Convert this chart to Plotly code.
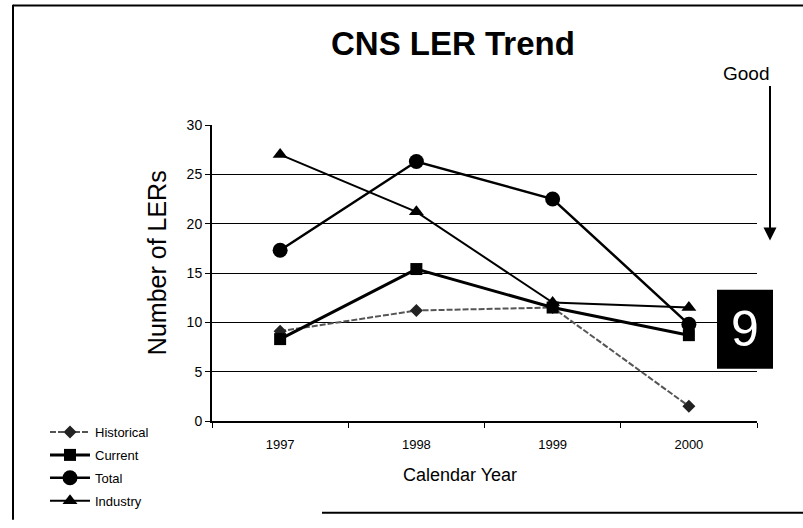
import plotly.graph_objects as go

years = ["1997", "1998", "1999", "2000"]
historical = [9.1, 11.2, 11.5, 1.5]
current = [8.3, 15.4, 11.5, 8.7]
total = [17.3, 26.3, 22.5, 9.8]
industry = [27.0, 21.2, 12.0, 11.5]

# plot area in pixels: x 212..757, y 125..425
W, H = 803, 528
L, R, T, B = 212, 757, 125, 425


def px(x):
    return (x - L) / (R - L)


def py(y):
    return (B - y) / (B - T)


FONT = "Arial, Liberation Sans, sans-serif"

fig = go.Figure()

fig.add_trace(go.Scatter(
    x=years, y=historical, name="Historical", legendgroup="a",
    mode="lines+markers",
    line=dict(color="#555", width=2, dash="6px,2px"),
    marker=dict(symbol="diamond", size=10, color="#222"),
))
fig.add_trace(go.Scatter(
    x=years, y=current, name="Current", legendgroup="b",
    mode="lines+markers",
    line=dict(color="black", width=3),
    marker=dict(symbol="square", size=12, color="black"),
))
fig.add_trace(go.Scatter(
    x=years, y=total, name="Total", legendgroup="c",
    mode="lines+markers",
    line=dict(color="black", width=2.5),
    marker=dict(symbol="circle", size=15, color="black"),
))
fig.add_trace(go.Scatter(
    x=years, y=industry, name="Industry", legendgroup="d",
    mode="lines+markers",
    line=dict(color="black", width=2),
    marker=dict(symbol="triangle-up", size=13, color="black"),
))


def label(text, x, y, size, **kw):
    return dict(text=text, x=px(x), y=py(y), xref="paper", yref="paper",
                xanchor="center", yanchor="middle", showarrow=False,
                font=dict(size=size, **kw.pop("font", {})), **kw)


fig.update_layout(
    width=W, height=H,
    margin=dict(l=L, r=W - R, t=T, b=H - B),
    paper_bgcolor="white", plot_bgcolor="white",
    font=dict(family=FONT, color="black", size=13),
    showlegend=True,
    legend=dict(
        x=px(45), y=py(421), xanchor="left", yanchor="top",
        font=dict(size=13), itemwidth=40, tracegroupgap=3,
        bgcolor="rgba(0,0,0,0)",
    ),
    xaxis=dict(
        type="category", range=[-0.5, 3.5],
        showline=True, linecolor="black", linewidth=2,
        ticks="outside", tickson="boundaries", ticklen=5, tickcolor="black",
        showgrid=False, tickfont=dict(size=13), ticklabelstandoff=10,
    ),
    yaxis=dict(
        range=[0, 30], dtick=5,
        showline=True, linecolor="black", linewidth=2,
        ticks="outside", ticklen=5, tickcolor="black",
        showgrid=True, gridcolor="black", gridwidth=1.2,
        zeroline=False, tickfont=dict(size=14),
    ),
    annotations=[
        label("<b>CNS LER Trend</b>", 453, 42, 33),
        label("Good", 746, 73, 19),
        label("Number of LERs", 157, 265, 25, textangle=-90),
        label("Calendar Year", 460, 480, 18),
        label("9", 745, 332, 50, font=dict(color="white")),
        # Good arrow
        dict(x=px(770), y=py(242), ax=0, ay=-156, xref="paper", yref="paper",
             text="", showarrow=True,
             arrowhead=2, arrowsize=1.3, arrowwidth=2, arrowcolor="black"),
    ],
    shapes=[
        dict(type="rect", xref="paper", yref="paper", x0=px(717), x1=px(773),
             y0=py(292), y1=py(372), fillcolor="black", line=dict(width=0),
             layer="above"),
        dict(type="line", xref="paper", yref="paper", x0=px(13), x1=px(13),
             y0=py(3), y1=py(525), line=dict(color="black", width=2)),
        dict(type="line", xref="paper", yref="paper", x0=px(13), x1=px(803),
             y0=py(4), y1=py(4), line=dict(color="black", width=2)),
        dict(type="line", xref="paper", yref="paper", x0=px(322), x1=px(803),
             y0=py(518), y1=py(518), line=dict(color="black", width=2)),
    ],
)

fig.write_html("out.html", config={"displayModeBar": False},
               post_script="document.body.style.margin='0';")
